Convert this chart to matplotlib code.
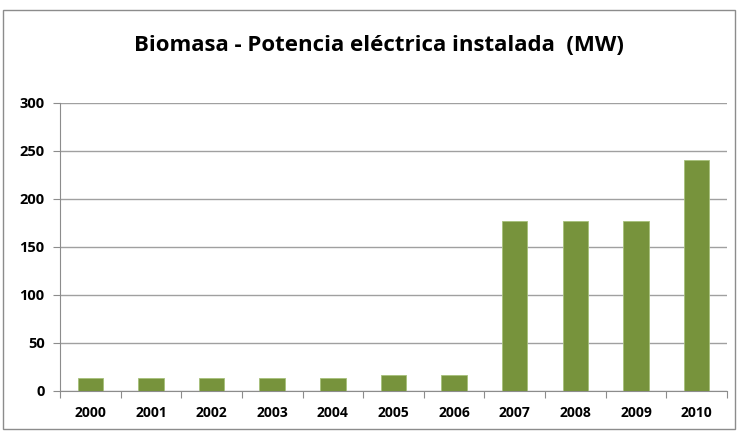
import numpy as np
import matplotlib
matplotlib.use("Agg")
import matplotlib.pyplot as plt
from matplotlib.patches import Rectangle

# Data
years = ["2000", "2001", "2002", "2003", "2004", "2005", "2006",
         "2007", "2008", "2009", "2010"]
potencia_mw = [13.5, 13.5, 13.5, 13.5, 13.5, 16.5, 16.5, 177, 177, 177, 240]
y_ticks = [0, 50, 100, 150, 200, 250, 300]

plt.rcParams["font.family"] = ["Open Sans", "DejaVu Sans"]

fig = plt.figure(figsize=(7.38, 4.32), dpi=100)
ax = fig.add_axes([0.0813, 0.095, 0.9037, 0.667])

# Outer chart frame
fig.patches.append(Rectangle((3 / 738, 3 / 432), 732 / 738, 419 / 432,
                             transform=fig.transFigure, fill=False,
                             edgecolor="#8c8c8c", linewidth=1.0))

x = np.arange(len(years))
ax.bar(x, potencia_mw, width=0.42, color="#77933C",
       edgecolor="#a6c07a", linewidth=0.6, zorder=3)

ax.set_xlim(-0.5, len(years) - 0.5)
ax.set_ylim(0, 300)
ax.set_yticks(y_ticks)
ax.set_yticklabels([str(v) for v in y_ticks], fontsize=10.5, fontweight="bold")
ax.yaxis.grid(True, color="#a0a0a0", linewidth=1.0, zorder=0)

# x ticks at category boundaries, labels centred on bars
ax.set_xticks(np.arange(-0.5, len(years), 1.0))
ax.set_xticklabels([])
ax.set_xticks(x, minor=True)
ax.set_xticklabels(years, minor=True, fontsize=10, fontweight="bold")
ax.tick_params(axis="x", which="major", length=5, color="#8c8c8c", direction="out")
ax.tick_params(axis="x", which="minor", length=0, pad=11)
ax.tick_params(axis="y", length=5, color="#8c8c8c", direction="out", pad=6)

for side in ["top", "right"]:
    ax.spines[side].set_visible(False)
for side in ["left", "bottom"]:
    ax.spines[side].set_color("#8c8c8c")

fig.text(0.513, 0.895, "Biomasa - Potencia eléctrica instalada  (MW)",
         ha="center", va="center", fontsize=16, fontweight="bold")

fig.savefig("out.png", dpi=100)
